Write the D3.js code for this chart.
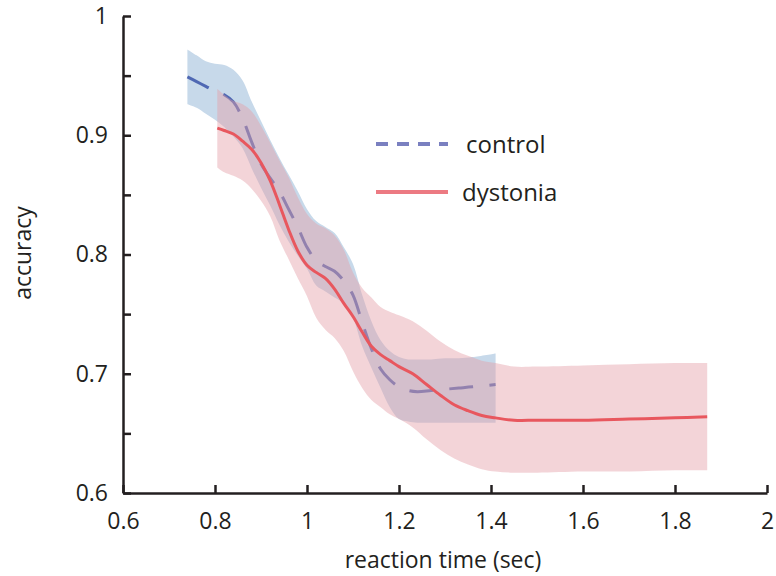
<!DOCTYPE html>
<html>
<head>
<meta charset="utf-8">
<script src="https://cdn.jsdelivr.net/npm/d3@7"></script>
<style>
  body { margin: 0; background: #fff; }
  svg { display: block; font-family: "Open Sans", sans-serif; }
</style>
</head>
<body>
<div id="chart"></div>
<script>
// control group: reaction time, mean accuracy and band edges
var ctrlX    = [0.74, 0.76, 0.78, 0.80, 0.82, 0.84, 0.86, 0.88, 0.90, 0.92, 0.94, 0.96, 0.98, 1.00, 1.02, 1.04, 1.06, 1.08, 1.10, 1.12, 1.14, 1.16, 1.18, 1.20, 1.22, 1.24, 1.27, 1.30, 1.33, 1.36, 1.41];
var ctrlMean = [0.949, 0.945, 0.941, 0.937, 0.934, 0.928, 0.914, 0.894, 0.876, 0.864, 0.853, 0.838, 0.823, 0.806, 0.795, 0.790, 0.786, 0.778, 0.766, 0.743, 0.721, 0.704, 0.695, 0.689, 0.686, 0.685, 0.686, 0.687, 0.688, 0.689, 0.691];
var ctrlHi   = [0.972, 0.967, 0.962, 0.960, 0.959, 0.955, 0.946, 0.928, 0.912, 0.896, 0.881, 0.867, 0.853, 0.838, 0.828, 0.823, 0.818, 0.806, 0.792, 0.766, 0.744, 0.728, 0.719, 0.714, 0.712, 0.712, 0.712, 0.713, 0.713, 0.714, 0.717];
var ctrlLo   = [0.926, 0.923, 0.918, 0.913, 0.907, 0.899, 0.889, 0.872, 0.856, 0.841, 0.825, 0.811, 0.799, 0.788, 0.774, 0.769, 0.764, 0.759, 0.747, 0.723, 0.705, 0.688, 0.672, 0.662, 0.660, 0.659, 0.659, 0.659, 0.659, 0.659, 0.659];

// dystonia group
var dysX    = [0.805, 0.82, 0.84, 0.86, 0.88, 0.90, 0.92, 0.94, 0.96, 0.98, 1.00, 1.02, 1.04, 1.06, 1.08, 1.10, 1.12, 1.14, 1.16, 1.18, 1.20, 1.23, 1.26, 1.29, 1.32, 1.35, 1.38, 1.41, 1.45, 1.50, 1.60, 1.70, 1.80, 1.87];
var dysMean = [0.906, 0.904, 0.901, 0.895, 0.888, 0.877, 0.862, 0.842, 0.821, 0.803, 0.791, 0.785, 0.780, 0.771, 0.759, 0.748, 0.735, 0.723, 0.716, 0.711, 0.706, 0.700, 0.691, 0.682, 0.674, 0.669, 0.665, 0.663, 0.661, 0.661, 0.661, 0.662, 0.663, 0.664];
var dysHi   = [0.939, 0.934, 0.929, 0.926, 0.920, 0.908, 0.894, 0.879, 0.865, 0.848, 0.834, 0.826, 0.822, 0.816, 0.804, 0.785, 0.772, 0.764, 0.756, 0.752, 0.749, 0.744, 0.736, 0.727, 0.720, 0.715, 0.711, 0.709, 0.706, 0.706, 0.707, 0.708, 0.709, 0.709];
var dysLo   = [0.873, 0.869, 0.866, 0.862, 0.855, 0.845, 0.832, 0.812, 0.796, 0.780, 0.765, 0.747, 0.737, 0.730, 0.719, 0.702, 0.688, 0.678, 0.672, 0.666, 0.662, 0.655, 0.645, 0.636, 0.629, 0.624, 0.620, 0.618, 0.617, 0.617, 0.618, 0.618, 0.619, 0.619];

var xTicks = [0.6, 0.8, 1.0, 1.2, 1.4, 1.6, 1.8, 2.0];
var xTickLabels = ["0.6", "0.8", "1", "1.2", "1.4", "1.6", "1.8", "2"];
var yTicks = [0.6, 0.65, 0.7, 0.75, 0.8, 0.85, 0.9, 0.95, 1.0];
var yTickLabels = ["0.6", "", "0.7", "", "0.8", "", "0.9", "", "1"];

var seriesNames = ["control", "dystonia"];

var W = 776, H = 576;
var margin = {top: 16, right: 9, bottom: 83, left: 123};
var width = W - margin.left - margin.right,
    height = H - margin.top - margin.bottom;

var svg = d3.select("#chart").append("svg")
    .attr("width", W)
    .attr("height", H);

var g = svg.append("g")
    .attr("transform", "translate(" + margin.left + "," + margin.top + ")");

var x = d3.scaleLinear().domain([0.6, 2]).range([0, width]);
var y = d3.scaleLinear().domain([0.6, 1]).range([height, 0]);

function rows(xs, mean, lo, hi) {
    return xs.map(function (d, i) { return {x: d, m: mean[i], lo: lo[i], hi: hi[i]}; });
}
var ctrl = rows(ctrlX, ctrlMean, ctrlLo, ctrlHi);
var dys = rows(dysX, dysMean, dysLo, dysHi);

var smooth = d3.curveCatmullRom.alpha(0.5);
var band = d3.area()
    .x(d => x(d.x))
    .y0(d => y(d.lo))
    .y1(d => y(d.hi))
    .curve(smooth);
var line = d3.line()
    .x(d => x(d.x))
    .y(d => y(d.m))
    .curve(smooth);

// control band + dashed mean
g.append("path").datum(ctrl)
    .attr("d", band)
    .attr("fill", "#c7d9ea");
g.append("path").datum(ctrl)
    .attr("d", line)
    .attr("fill", "none")
    .attr("stroke", "#4f68b3")
    .attr("stroke-width", 3)
    .attr("stroke-dasharray", "24,16");

// dystonia band on top, then its mean
g.append("path").datum(dys)
    .attr("d", band)
    .attr("fill", "rgb(229,160,168)")
    .attr("fill-opacity", 0.45);
g.append("path").datum(dys)
    .attr("d", line)
    .attr("fill", "none")
    .attr("stroke", "#e8575e")
    .attr("stroke-width", 3);

// axes
var axisColor = "#231f20";
var yAxis = d3.axisLeft(y)
    .tickValues(yTicks)
    .tickFormat((d, i) => yTickLabels[i])
    .tickSizeInner(-8)
    .tickSizeOuter(0)
    .tickPadding(15);
var xAxis = d3.axisBottom(x)
    .tickValues(xTicks)
    .tickFormat((d, i) => xTickLabels[i])
    .tickSizeInner(-8)
    .tickSizeOuter(0)
    .tickPadding(20);

var gy = g.append("g").call(yAxis);
var gx = g.append("g")
    .attr("transform", "translate(0," + height + ")")
    .call(xAxis);

[gx, gy].forEach(function (a) {
    a.selectAll("path, line")
        .attr("stroke", axisColor)
        .attr("stroke-width", 2.5);
    a.selectAll("text")
        .attr("fill", axisColor)
        .attr("font-size", "23px")
        .attr("font-family", "'Open Sans', sans-serif");
});

// axis titles
g.append("text")
    .attr("x", width / 2 - 2)
    .attr("y", height + 75)
    .attr("text-anchor", "middle")
    .attr("font-size", "23px")
    .attr("fill", axisColor)
    .text("reaction time (sec)");

g.append("text")
    .attr("transform", "translate(" + (31 - margin.left) + "," + (253 - margin.top) + ") rotate(-90)")
    .attr("text-anchor", "middle")
    .attr("font-size", "23px")
    .attr("fill", axisColor)
    .text("accuracy");

// legend
var legend = g.append("g")
    .attr("transform", "translate(" + (376 - margin.left) + "," + (144 - margin.top) + ")");
var legendStyle = [
    {color: "#7a80c0", dash: "12,9"},
    {color: "#ec7a82", dash: null}
];
seriesNames.forEach(function (name, i) {
    var row = legend.append("g").attr("transform", "translate(0," + (i * 48) + ")");
    row.append("line")
        .attr("x1", 0).attr("x2", 72)
        .attr("y1", 0).attr("y2", 0)
        .attr("stroke", legendStyle[i].color)
        .attr("stroke-width", 4)
        .attr("stroke-dasharray", legendStyle[i].dash);
    row.append("text")
        .attr("x", i === 0 ? 90 : 86)
        .attr("y", 9)
        .attr("font-size", "24px")
        .attr("fill", axisColor)
        .text(name);
});
</script>
</body>
</html>
